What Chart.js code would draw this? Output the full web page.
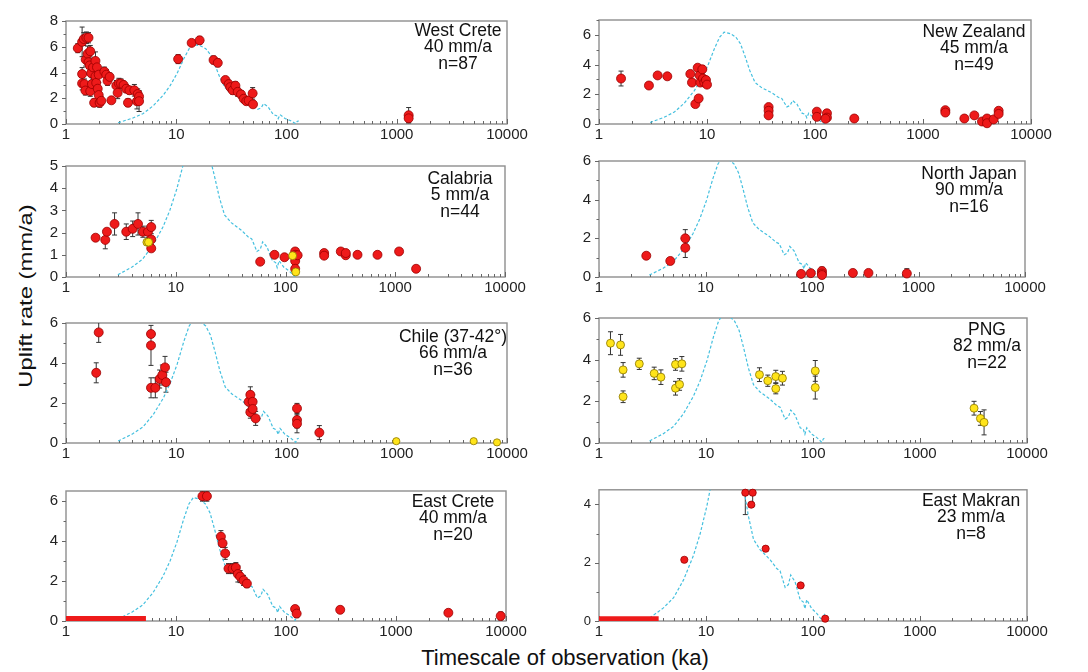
<!DOCTYPE html>
<html>
<head>
<meta charset="utf-8">
<script src="https://cdn.jsdelivr.net/npm/chart.js@4.4.1/dist/chart.umd.min.js"></script>
<style>
  body { margin: 0; width: 1088px; height: 672px; background: #fff; position: relative; overflow: hidden;
         font-family: 'Liberation Sans', Arial, sans-serif; color: #111; }
  .panel { position: absolute; }
  .title { position: absolute; white-space: nowrap; }
  #ytitle { left: 26px; top: 296px; font-size: 19px; transform: translate(-50%, -50%) rotate(-90deg) scaleX(1.25); }
  #xtitle { left: 565px; top: 658px; font-size: 22px; transform: translate(-50%, -50%); }
</style>
</head>
<body>
<div id="ytitle" class="title">Uplift rate (mm/a)</div>
<div id="xtitle" class="title">Timescale of observation (ka)</div>
<script>
// shared dashed reference curve (ka, mm/a)
const curveX = [2.97, 4.0, 4.98, 6.17, 7.64, 8.83, 10.2, 11.75, 13.1, 14.4, 16.5, 18.5, 20.4, 22.4, 24.9, 27.8, 32, 39.8, 45.8, 49.2, 54.9, 58.9, 61.9, 67.9, 75.9, 81.3, 84, 87.4, 97, 108, 116, 121, 125, 129];
const curveY = [0.1, 0.45, 0.8, 1.41, 2.25, 3.0, 3.95, 5.1, 5.85, 6.18, 6.08, 5.85, 5.4, 4.6, 3.6, 2.8, 2.45, 2.1, 1.8, 1.72, 1.15, 1.25, 1.58, 1.35, 0.73, 0.65, 0.42, 0.73, 0.43, 0.27, 0.12, 0.03, 0.2, 0.24];

// West Crete
const wcX = [1.28, 1.40, 1.45, 1.53, 1.60, 1.40, 1.40, 1.47, 1.50, 1.51, 1.57, 1.66, 1.60, 1.64, 1.69, 1.66, 1.72, 1.76, 1.80,
  1.85, 1.85, 1.88, 1.91, 1.94, 1.98, 2.02, 1.98, 2.09, 2.23, 2.32, 2.38, 2.49, 2.58, 2.86, 2.94, 3.02, 3.15, 3.33, 3.52, 3.65, 3.76,
  4.17, 4.40, 4.47, 4.60, 4.60, 10.4, 13.8, 16.3, 21.8, 23.8, 27.9, 29.9, 30.9, 32.5, 34.4, 36.1, 38.7, 40.9, 43.2, 45.4, 49.3, 49.7,
  1282, 1282];
const wcY = [5.89, 6.38, 6.6, 6.7, 6.7, 3.88, 3.15, 3.1, 2.6, 5.0, 5.45, 5.65, 4.8, 4.55, 3.95, 2.55, 3.1, 4.4, 1.65,
  4.9, 3.7, 3.2, 4.4, 2.74, 2.25, 1.65, 3.83, 1.8, 4.07, 3.83, 3.35, 3.66, 1.84, 2.98, 2.42, 3.15, 3.15, 3.03, 2.74, 1.65, 2.62,
  2.62, 1.77, 2.33, 2.13, 1.77, 5.04, 6.3, 6.5, 4.97, 4.75, 3.42, 3.1, 2.86, 2.62, 2.98, 2.5, 2.3, 1.96, 1.77, 1.82, 2.38, 1.53,
  0.68, 0.44];
const wcErr = [0.35, 1.15, 0.5, 0.45, 0.4, 0.5, 0.5, 0.4, 0.35, 0.5, 0.6, 0.45, 0.5, 0.5, 0.6, 0.4, 0.5, 0.6, 0.3,
  0.7, 1.1, 0.5, 0.6, 0.4, 0.5, 0.35, 0.6, 0.3, 0.35, 0.4, 0.35, 0.3, 0.2, 0.4, 0.45, 0.4, 0.35, 0.3, 0.3, 0.3, 0.3,
  0.45, 0.6, 0.4, 0.45, 0.8, 0.35, 0.12, 0.3, 0.3, 0.3, 0.2, 0.3, 0.3, 0.3, 0.3, 0.35, 0.3, 0.3, 0.25, 0.25, 0.45, 0.2,
  0.6, 0.3];

// New Zealand
const nzX = [1.60, 2.90, 3.49, 4.29, 7.01, 7.26, 7.8, 8.37, 8.2, 8.55, 8.67, 9.05, 9.18, 9.44, 9.78, 10.0, 37.2, 37.2, 37.2,
  104, 104, 129, 129, 125, 231, 1610, 1610, 2415, 2987, 3518, 3917, 3917, 4510, 5015, 5015];
const nzY = [3.06, 2.59, 3.27, 3.21, 3.37, 2.79, 1.34, 1.72, 3.79, 3.27, 2.79, 3.68, 3.06, 2.79, 2.96, 2.65, 1.14, 0.89, 0.58,
  0.83, 0.48, 0.72, 0.43, 0.35, 0.37, 0.93, 0.77, 0.37, 0.58, 0.17, 0.37, 0.05, 0.31, 0.89, 0.68];
const nzErr = [0.5, 0, 0.15, 0, 0.15, 0.15, 0.2, 0.15, 0.2, 0.25, 0.2, 0.25, 0.2, 0.2, 0.2, 0.15, 0, 0, 0,
  0, 0, 0, 0, 0, 0, 0.1, 0, 0, 0, 0, 0, 0, 0, 0.1, 0];

// Calabria
const caX = [1.86, 2.28, 2.36, 2.77, 3.54, 4.05, 4.53, 5.02, 5.58, 5.98, 5.98, 5.98, 58.8, 79.4, 97.9, 122.5, 122.5, 122.5, 122.5, 129,
  225, 225, 319, 354, 354, 453, 689, 1084, 1549];
const caY = [1.77, 1.67, 2.04, 2.39, 2.04, 2.17, 2.39, 2.04, 2.04, 2.25, 1.69, 1.29, 0.69, 1.0, 0.89, 1.15, 1.0, 0.72, 0.37, 0.98,
  1.08, 0.96, 1.15, 0.98, 1.08, 1.0, 1.0, 1.15, 0.37];
const caErr = [0, 0.4, 0, 0.5, 0.35, 0.35, 0.5, 0.25, 0.25, 0.3, 0, 0, 0, 0, 0, 0, 0, 0, 0, 0,
  0, 0, 0, 0, 0, 0, 0, 0, 0];
const caYelX = [5.46, 5.65, 116, 124];
const caYelY = [1.57, 1.57, 0.96, 0.23];
const caYelErr = [0.12, 0.12, 0, 0];

// North Japan
const njX = [2.78, 4.67, 6.46, 6.46, 79.1, 97.5, 124, 124, 124, 242, 339, 777];
const njY = [1.1, 0.83, 2.0, 1.51, 0.16, 0.2, 0.31, 0.18, 0.1, 0.21, 0.21, 0.18];
const njErr = [0, 0.1, 0.45, 0.5, 0, 0, 0.2, 0, 0, 0, 0, 0.25];

// Chile (37-42°)
const chX = [1.88, 1.98, 5.90, 5.90, 5.90, 6.46, 7.07, 7.48, 7.91, 8.07, 45.4, 47.0, 47.0, 49.3, 49.3, 52.5, 124.5, 124.5, 124.5, 198.6];
const chY = [3.51, 5.53, 5.45, 4.88, 2.76, 2.76, 3.2, 3.4, 3.78, 3.04, 2.06, 2.41, 1.54, 2.06, 1.7, 1.23, 1.73, 1.15, 0.96, 0.52];
const chErr = [0.5, 0.5, 0, 1.0, 0.5, 0.5, 0.45, 0.5, 0.55, 0.5, 0.4, 0.4, 0.3, 0.35, 0.3, 0.35, 0.25, 0.4, 0.45, 0.35];
const chYelX = [991, 4986, 8115];
const chYelY = [0.09, 0.09, 0.03];

// PNG
const pnX = [1.28, 1.59, 1.68, 1.68, 2.38, 3.28, 3.79, 5.19, 5.19, 5.95, 5.66, 31.6, 37.8, 44.9, 44.9, 51.8, 105, 105, 3200, 3670, 3970];
const pnY = [4.79, 4.71, 3.51, 2.22, 3.8, 3.34, 3.16, 3.77, 2.63, 3.8, 2.81, 3.28, 2.99, 3.19, 2.61, 3.11, 3.46, 2.66, 1.67, 1.18, 0.99];
const pnErr = [0.55, 0.5, 0.35, 0.28, 0.27, 0.3, 0.35, 0.28, 0.33, 0.35, 0.28, 0.33, 0.27, 0.3, 0.25, 0.33, 0.5, 0.55, 0.33, 0.33, 0.6];

// East Crete
const ecX = [17.4, 19.1, 25.6, 26.5, 28.0, 30.0, 32.7, 35.0, 36.5, 38.3, 41.1, 44.1, 121, 125, 311, 2992, 8950];
const ecY = [6.24, 6.24, 4.22, 3.89, 3.38, 2.62, 2.62, 2.67, 2.35, 2.22, 2.03, 1.87, 0.6, 0.37, 0.56, 0.41, 0.25];
const ecErr = [0.25, 0.25, 0.3, 0.2, 0.3, 0.25, 0.25, 0.25, 0.4, 0.3, 0.25, 0.2, 0.15, 0.2, 0, 0, 0.2];
const ecBarX = [1, 5.33];
const ecBarY = [0.12, 0.12];

// East Makran
const emX = [6.27, 23.3, 27.3, 26.5, 36.1, 76.7, 130];
const emY = [2.1, 4.4, 4.4, 3.99, 2.48, 1.22, 0.08];
const emErr = [0, 0.75, 0.45, 0, 0, 0, 0];
const emBarX = [1, 3.61];
const emBarY = [0.08, 0.08];

Chart.defaults.font.family = "'Liberation Sans', Arial, sans-serif";
Chart.defaults.color = '#222';

const YAW = 40, XAH = 24, PT = 10, PR = 26;
const RED = '#ee1a1a', RED_EDGE = '#9b0000', YEL = '#ffe41a', YEL_EDGE = '#8c7600';

const pts = (xs, ys) => xs.map((x, i) => ({ x: x, y: ys[i] }));

const panelPlugin = {
  id: 'panelPlugin',
  beforeDatasetsDraw(chart, args, o) {
    const { ctx, chartArea: a } = chart;
    const xs = chart.scales.x, ys = chart.scales.y;
    ctx.save();
    // frame
    ctx.strokeStyle = '#8e8e8e';
    ctx.lineWidth = 1.4;
    ctx.strokeRect(a.left, a.top, a.right - a.left, a.bottom - a.top);
    // y ticks (outward)
    ctx.strokeStyle = '#666';
    ctx.lineWidth = 1;
    ctx.beginPath();
    for (let v = 0; v <= o.ymax + 1e-9; v += o.minor) {
      const py = Math.round(ys.getPixelForValue(v)) + 0.5;
      const len = Math.abs(v / o.major - Math.round(v / o.major)) < 1e-6 ? 4 : 2.5;
      ctx.moveTo(a.left - len, py); ctx.lineTo(a.left, py);
    }
    // x ticks (inward)
    for (let d = 1; d <= 10000; d *= 10) {
      for (let k = 1; k <= 9; k++) {
        const v = k * d;
        if (v > 10000) break;
        const px = Math.round(xs.getPixelForValue(v)) + 0.5;
        const len = k === 1 ? 5 : 3;
        ctx.moveTo(px, a.bottom); ctx.lineTo(px, a.bottom - len);
      }
    }
    ctx.stroke();
    // error bars
    ctx.beginPath();
    ctx.rect(a.left, a.top, a.right - a.left, a.bottom - a.top);
    ctx.clip();
    ctx.strokeStyle = '#333';
    ctx.lineWidth = 1;
    chart.data.datasets.forEach((ds, di) => {
      if (!ds.err) return;
      chart.getDatasetMeta(di).data.forEach((p, i) => {
        const e = ds.err[i];
        if (!e) return;
        const v = ds.data[i].y;
        const t = ys.getPixelForValue(v + e), b = ys.getPixelForValue(v - e);
        ctx.beginPath();
        ctx.moveTo(p.x, t); ctx.lineTo(p.x, b);
        ctx.moveTo(p.x - 2.5, t); ctx.lineTo(p.x + 2.5, t);
        ctx.moveTo(p.x - 2.5, b); ctx.lineTo(p.x + 2.5, b);
        ctx.stroke();
      });
    });
    ctx.restore();
  },
  afterDraw(chart, args, o) {
    const { ctx, chartArea: a } = chart;
    ctx.save();
    ctx.fillStyle = '#111';
    ctx.font = "17.5px 'Liberation Sans', Arial, sans-serif";
    ctx.textAlign = 'center';
    ctx.textBaseline = 'middle';
    o.lines.forEach((s, i) => ctx.fillText(s, a.right - o.tx, a.top + o.ty + i * 16.5));
    ctx.restore();
  }
};

function makePanel(p) {
  const [L, T, R, B] = p.box;
  const div = document.createElement('div');
  div.className = 'panel';
  div.style.left = (L - YAW) + 'px';
  div.style.top = (T - PT) + 'px';
  div.style.width = (R - L + YAW + PR) + 'px';
  div.style.height = (B - T + PT + XAH) + 'px';
  const cv = document.createElement('canvas');
  div.appendChild(cv);
  document.body.appendChild(div);

  const datasets = [];
  if (p.red) datasets.push({ data: pts(p.red[0], p.red[1]), err: p.red[2], backgroundColor: RED, borderColor: RED_EDGE,
    borderWidth: 0.8, pointRadius: p.r || 4.5, clip: false, order: 1 });
  if (p.yel) datasets.push({ data: pts(p.yel[0], p.yel[1]), err: p.yel[2], backgroundColor: YEL, borderColor: YEL_EDGE,
    borderWidth: 0.8, pointRadius: p.ry || 4, clip: false, order: 0 });
  if (p.bar) datasets.push({ type: 'line', data: pts(p.bar[0], p.bar[1]), borderColor: RED, borderWidth: 5,
    pointRadius: 0, borderCapStyle: 'butt', order: 2 });
  datasets.push({ type: 'line', data: pts(curveX, curveY), borderColor: '#45c0df', borderWidth: 1.2,
    borderDash: [3, 2], pointRadius: 0, tension: 0, order: 3 });

  new Chart(cv, {
    type: 'scatter',
    data: { datasets: datasets },
    options: {
      responsive: true,
      maintainAspectRatio: false,
      animation: false,
      layout: { padding: { top: PT, right: PR, left: 0, bottom: 0 } },
      plugins: {
        legend: { display: false },
        tooltip: { enabled: false },
        panelPlugin: { lines: p.lines, tx: p.tx, ty: p.ty, ymax: p.ymax, major: p.major, minor: p.minor }
      },
      scales: {
        x: {
          type: 'logarithmic', min: 1, max: 10000,
          afterFit(s) { s.height = XAH; },
          grid: { display: false, drawTicks: false }, border: { display: false },
          ticks: {
            autoSkip: false, maxRotation: 0, padding: 2, color: '#222', font: { size: 15 },
            callback(v) { const l = Math.log10(v); return Math.abs(l - Math.round(l)) < 1e-9 ? String(v) : ''; }
          }
        },
        y: {
          min: 0, max: p.ymax,
          afterFit(s) { s.width = YAW; },
          grid: { display: false, drawTicks: false }, border: { display: false },
          ticks: { stepSize: p.major, includeBounds: false, padding: 8, color: '#222', font: { size: p.yfont || 15 } }
        }
      }
    },
    plugins: [panelPlugin]
  });
}

makePanel({ box: [66, 14, 507, 124], ymax: 8, major: 2, minor: 1, red: [wcX, wcY, wcErr],
  lines: ['West Crete', '40 mm/a', 'n=87'], tx: 49, ty: 10 });
makePanel({ box: [599, 13, 1031, 124], ymax: 7, major: 2, minor: 1, red: [nzX, nzY, nzErr],
  lines: ['New Zealand', '45 mm/a', 'n=49'], tx: 57, ty: 12 });
makePanel({ box: [66, 159, 505, 277], ymax: 5, major: 1, minor: 1, red: [caX, caY, caErr], yel: [caYelX, caYelY, caYelErr],
  lines: ['Calabria', '5 mm/a', 'n=44'], tx: 45, ty: 13 });
makePanel({ box: [599, 154, 1025, 277], ymax: 6, major: 2, minor: 1, red: [njX, njY, njErr],
  lines: ['North Japan', '90 mm/a', 'n=16'], tx: 56, ty: 13 });
makePanel({ box: [66, 316, 507, 443], ymax: 6, major: 2, minor: 1, red: [chX, chY, chErr], yel: [chYelX, chYelY, null], ry: 3.6,
  lines: ['Chile (37-42°)', '66 mm/a', 'n=36'], tx: 54, ty: 14 });
makePanel({ box: [599, 311, 1027, 443], ymax: 6, major: 2, minor: 1, yel: [pnX, pnY, pnErr], ry: 4,
  lines: ['PNG', '82 mm/a', 'n=22'], tx: 40, ty: 12 });
makePanel({ box: [66, 484, 506, 621], ymax: 6.5, major: 2, minor: 1, red: [ecX, ecY, ecErr], bar: [ecBarX, ecBarY],
  lines: ['East Crete', '40 mm/a', 'n=20'], tx: 53, ty: 11 });
makePanel({ box: [599, 484, 1027, 621], ymax: 4.5, major: 2, minor: 1, red: [emX, emY, emErr], bar: [emBarX, emBarY], r: 3.6,
  yfont: 13, lines: ['East Makran', '23 mm/a', 'n=8'], tx: 56, ty: 11 });
</script>
</body>
</html>
